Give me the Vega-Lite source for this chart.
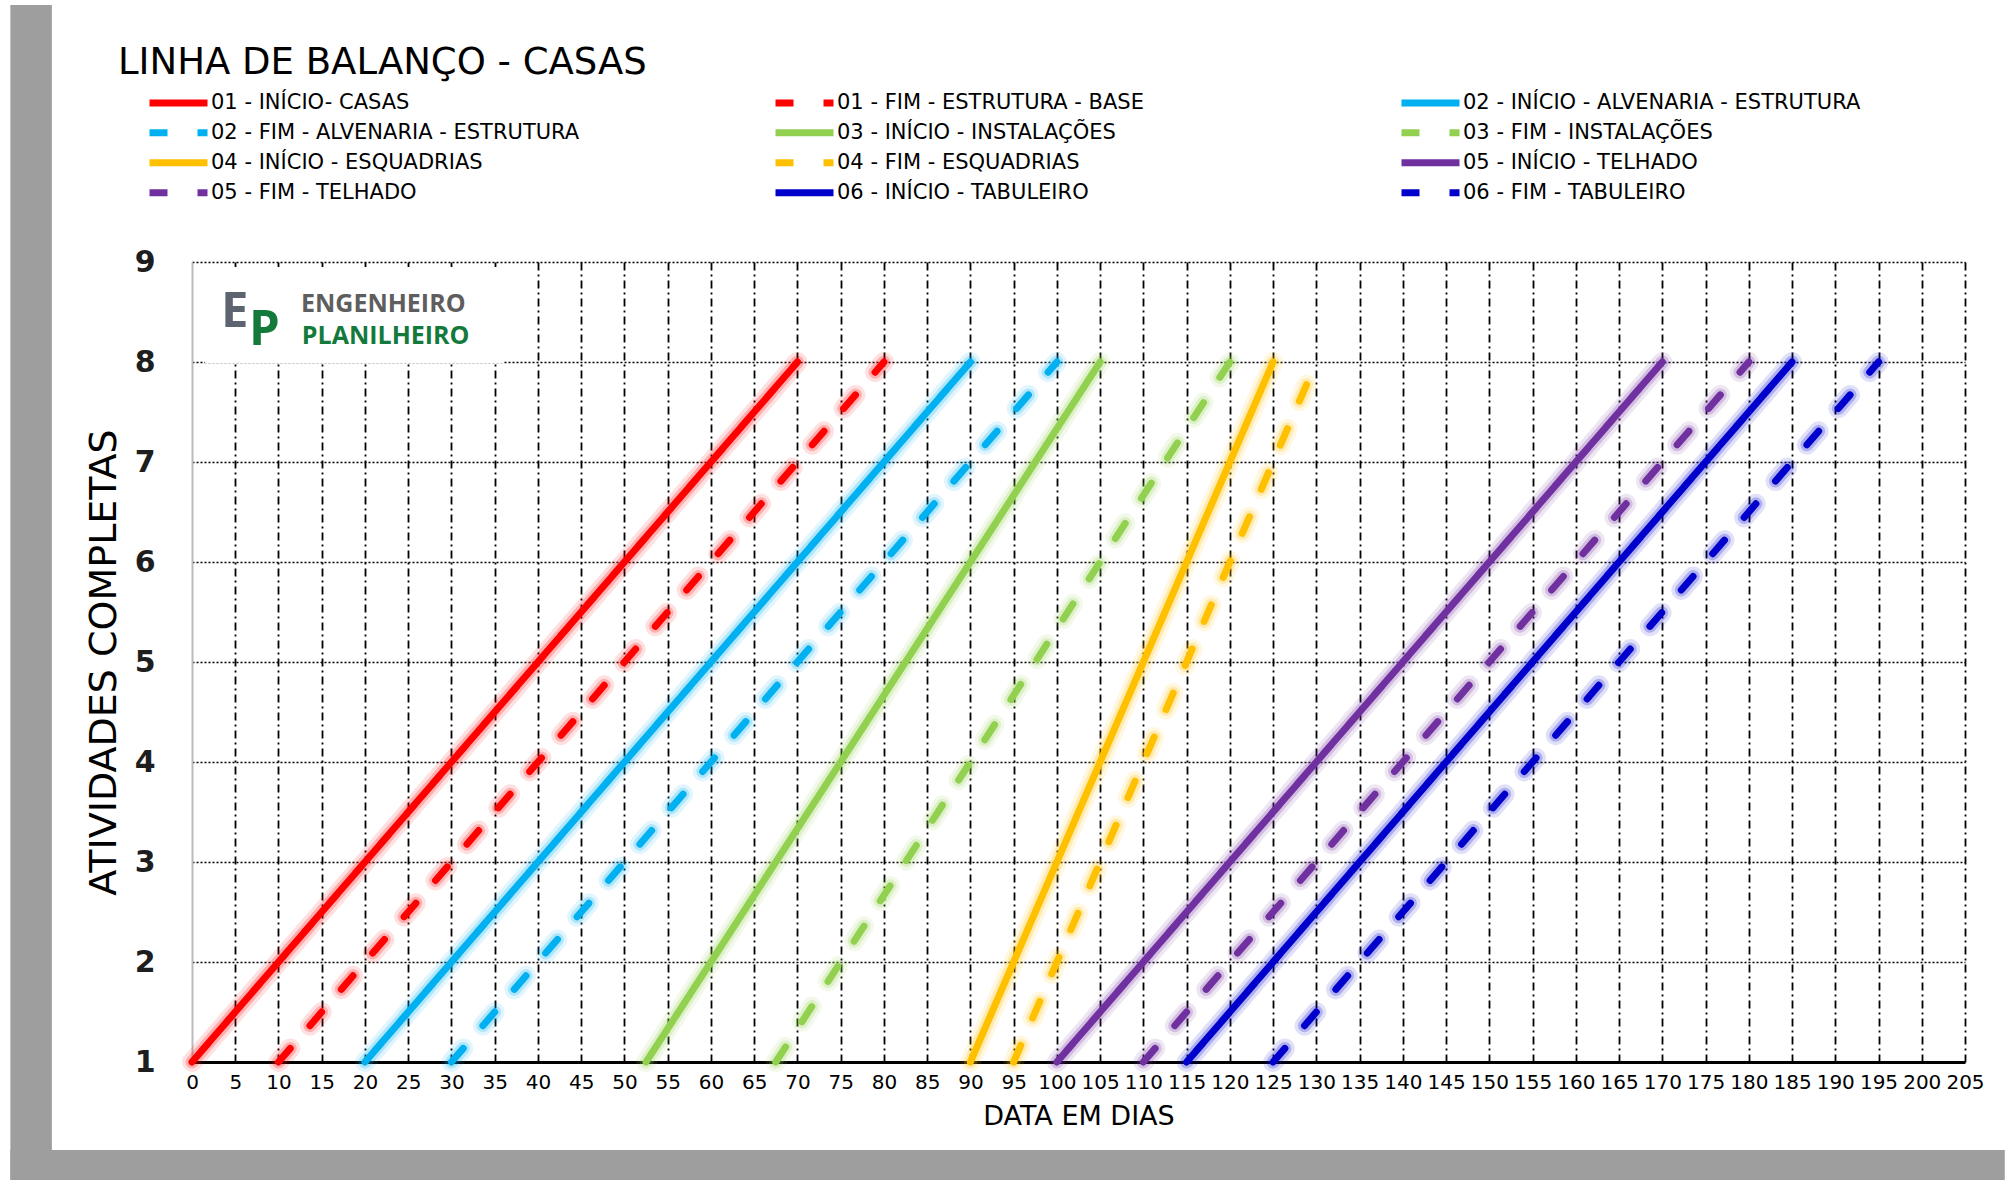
{
  "$schema": "https://vega.github.io/schema/vega-lite/v6.json",
  "width": 1773,
  "height": 800,
  "autosize": {"type": "none"},
  "padding": {"left": 192, "top": 262, "right": 47, "bottom": 129},
  "background": "white",
  "title": {
    "text": "LINHA DE BALANÇO - CASAS",
    "anchor": "start",
    "frame": "group",
    "dx": -74,
    "offset": -106,
    "baseline": "alphabetic",
    "font": "DejaVu Sans",
    "fontSize": 37,
    "fontWeight": "normal",
    "color": "black"
  },
  "config": {
    "view": {"stroke": null},
    "legend": {
      "orient": "none",
      "legendX": -46,
      "legendY": -174,
      "direction": "horizontal",
      "columns": 3,
      "gridAlign": "all",
      "columnPadding": 163,
      "rowPadding": 0,
      "clipHeight": 29.5,
      "symbolType": "stroke",
      "symbolSize": 3364,
      "symbolStrokeWidth": 7,
      "symbolOpacity": 1,
      "labelFont": "DejaVu Sans",
      "labelFontSize": 21,
      "labelColor": "black",
      "labelOffset": 0,
      "labelLimit": 800,
      "padding": 0
    }
  },
  "data": {
    "values": [
      {"serie": "01 - Início- Casas", "dia": 0, "atividades": 1},
      {"serie": "01 - Início- Casas", "dia": 10, "atividades": 2},
      {"serie": "01 - Início- Casas", "dia": 20, "atividades": 3},
      {"serie": "01 - Início- Casas", "dia": 30, "atividades": 4},
      {"serie": "01 - Início- Casas", "dia": 40, "atividades": 5},
      {"serie": "01 - Início- Casas", "dia": 50, "atividades": 6},
      {"serie": "01 - Início- Casas", "dia": 60, "atividades": 7},
      {"serie": "01 - Início- Casas", "dia": 70, "atividades": 8},
      {"serie": "01 - Fim - Estrutura - Base", "dia": 10, "atividades": 1},
      {"serie": "01 - Fim - Estrutura - Base", "dia": 20, "atividades": 2},
      {"serie": "01 - Fim - Estrutura - Base", "dia": 30, "atividades": 3},
      {"serie": "01 - Fim - Estrutura - Base", "dia": 40, "atividades": 4},
      {"serie": "01 - Fim - Estrutura - Base", "dia": 50, "atividades": 5},
      {"serie": "01 - Fim - Estrutura - Base", "dia": 60, "atividades": 6},
      {"serie": "01 - Fim - Estrutura - Base", "dia": 70, "atividades": 7},
      {"serie": "01 - Fim - Estrutura - Base", "dia": 80, "atividades": 8},
      {"serie": "02 - Início - Alvenaria - Estrutura", "dia": 20, "atividades": 1},
      {"serie": "02 - Início - Alvenaria - Estrutura", "dia": 30, "atividades": 2},
      {"serie": "02 - Início - Alvenaria - Estrutura", "dia": 40, "atividades": 3},
      {"serie": "02 - Início - Alvenaria - Estrutura", "dia": 50, "atividades": 4},
      {"serie": "02 - Início - Alvenaria - Estrutura", "dia": 60, "atividades": 5},
      {"serie": "02 - Início - Alvenaria - Estrutura", "dia": 70, "atividades": 6},
      {"serie": "02 - Início - Alvenaria - Estrutura", "dia": 80, "atividades": 7},
      {"serie": "02 - Início - Alvenaria - Estrutura", "dia": 90, "atividades": 8},
      {"serie": "02 - Fim - Alvenaria - Estrutura", "dia": 30, "atividades": 1},
      {"serie": "02 - Fim - Alvenaria - Estrutura", "dia": 40, "atividades": 2},
      {"serie": "02 - Fim - Alvenaria - Estrutura", "dia": 50, "atividades": 3},
      {"serie": "02 - Fim - Alvenaria - Estrutura", "dia": 60, "atividades": 4},
      {"serie": "02 - Fim - Alvenaria - Estrutura", "dia": 70, "atividades": 5},
      {"serie": "02 - Fim - Alvenaria - Estrutura", "dia": 80, "atividades": 6},
      {"serie": "02 - Fim - Alvenaria - Estrutura", "dia": 90, "atividades": 7},
      {"serie": "02 - Fim - Alvenaria - Estrutura", "dia": 100, "atividades": 8},
      {"serie": "03 - Início - Instalações", "dia": 52.5, "atividades": 1},
      {"serie": "03 - Início - Instalações", "dia": 60, "atividades": 2},
      {"serie": "03 - Início - Instalações", "dia": 67.5, "atividades": 3},
      {"serie": "03 - Início - Instalações", "dia": 75, "atividades": 4},
      {"serie": "03 - Início - Instalações", "dia": 82.5, "atividades": 5},
      {"serie": "03 - Início - Instalações", "dia": 90, "atividades": 6},
      {"serie": "03 - Início - Instalações", "dia": 97.5, "atividades": 7},
      {"serie": "03 - Início - Instalações", "dia": 105, "atividades": 8},
      {"serie": "03 - Fim - Instalações", "dia": 67.5, "atividades": 1},
      {"serie": "03 - Fim - Instalações", "dia": 75, "atividades": 2},
      {"serie": "03 - Fim - Instalações", "dia": 82.5, "atividades": 3},
      {"serie": "03 - Fim - Instalações", "dia": 90, "atividades": 4},
      {"serie": "03 - Fim - Instalações", "dia": 97.5, "atividades": 5},
      {"serie": "03 - Fim - Instalações", "dia": 105, "atividades": 6},
      {"serie": "03 - Fim - Instalações", "dia": 112.5, "atividades": 7},
      {"serie": "03 - Fim - Instalações", "dia": 120, "atividades": 8},
      {"serie": "04 - Início - Esquadrias", "dia": 90, "atividades": 1},
      {"serie": "04 - Início - Esquadrias", "dia": 95, "atividades": 2},
      {"serie": "04 - Início - Esquadrias", "dia": 100, "atividades": 3},
      {"serie": "04 - Início - Esquadrias", "dia": 105, "atividades": 4},
      {"serie": "04 - Início - Esquadrias", "dia": 110, "atividades": 5},
      {"serie": "04 - Início - Esquadrias", "dia": 115, "atividades": 6},
      {"serie": "04 - Início - Esquadrias", "dia": 120, "atividades": 7},
      {"serie": "04 - Início - Esquadrias", "dia": 125, "atividades": 8},
      {"serie": "04 - Fim - Esquadrias", "dia": 95, "atividades": 1},
      {"serie": "04 - Fim - Esquadrias", "dia": 100, "atividades": 2},
      {"serie": "04 - Fim - Esquadrias", "dia": 105, "atividades": 3},
      {"serie": "04 - Fim - Esquadrias", "dia": 110, "atividades": 4},
      {"serie": "04 - Fim - Esquadrias", "dia": 115, "atividades": 5},
      {"serie": "04 - Fim - Esquadrias", "dia": 120, "atividades": 6},
      {"serie": "04 - Fim - Esquadrias", "dia": 125, "atividades": 7},
      {"serie": "04 - Fim - Esquadrias", "dia": 130, "atividades": 8},
      {"serie": "05 - Início - Telhado", "dia": 100, "atividades": 1},
      {"serie": "05 - Início - Telhado", "dia": 110, "atividades": 2},
      {"serie": "05 - Início - Telhado", "dia": 120, "atividades": 3},
      {"serie": "05 - Início - Telhado", "dia": 130, "atividades": 4},
      {"serie": "05 - Início - Telhado", "dia": 140, "atividades": 5},
      {"serie": "05 - Início - Telhado", "dia": 150, "atividades": 6},
      {"serie": "05 - Início - Telhado", "dia": 160, "atividades": 7},
      {"serie": "05 - Início - Telhado", "dia": 170, "atividades": 8},
      {"serie": "05 - Fim - Telhado", "dia": 110, "atividades": 1},
      {"serie": "05 - Fim - Telhado", "dia": 120, "atividades": 2},
      {"serie": "05 - Fim - Telhado", "dia": 130, "atividades": 3},
      {"serie": "05 - Fim - Telhado", "dia": 140, "atividades": 4},
      {"serie": "05 - Fim - Telhado", "dia": 150, "atividades": 5},
      {"serie": "05 - Fim - Telhado", "dia": 160, "atividades": 6},
      {"serie": "05 - Fim - Telhado", "dia": 170, "atividades": 7},
      {"serie": "05 - Fim - Telhado", "dia": 180, "atividades": 8},
      {"serie": "06 - Início - Tabuleiro", "dia": 115, "atividades": 1},
      {"serie": "06 - Início - Tabuleiro", "dia": 125, "atividades": 2},
      {"serie": "06 - Início - Tabuleiro", "dia": 135, "atividades": 3},
      {"serie": "06 - Início - Tabuleiro", "dia": 145, "atividades": 4},
      {"serie": "06 - Início - Tabuleiro", "dia": 155, "atividades": 5},
      {"serie": "06 - Início - Tabuleiro", "dia": 165, "atividades": 6},
      {"serie": "06 - Início - Tabuleiro", "dia": 175, "atividades": 7},
      {"serie": "06 - Início - Tabuleiro", "dia": 185, "atividades": 8},
      {"serie": "06 - Fim - Tabuleiro", "dia": 125, "atividades": 1},
      {"serie": "06 - Fim - Tabuleiro", "dia": 135, "atividades": 2},
      {"serie": "06 - Fim - Tabuleiro", "dia": 145, "atividades": 3},
      {"serie": "06 - Fim - Tabuleiro", "dia": 155, "atividades": 4},
      {"serie": "06 - Fim - Tabuleiro", "dia": 165, "atividades": 5},
      {"serie": "06 - Fim - Tabuleiro", "dia": 175, "atividades": 6},
      {"serie": "06 - Fim - Tabuleiro", "dia": 185, "atividades": 7},
      {"serie": "06 - Fim - Tabuleiro", "dia": 195, "atividades": 8}
    ]
  },
  "layer": [
    {
      "data": {"values": [{"a": 1}]},
      "mark": {"type": "rect", "fill": "#9e9e9e", "clip": false},
      "encoding": {
        "x": {"datum": -21, "type": "quantitative", "scale": {"domain": [0, 205], "nice": false, "zero": false}},
        "x2": {"datum": -16.2},
        "y": {"datum": -0.18, "type": "quantitative", "scale": {"domain": [1, 9], "nice": false, "zero": false}},
        "y2": {"datum": 11.57}
      }
    },
    {
      "data": {"values": [{"a": 1}]},
      "mark": {"type": "rect", "fill": "#9e9e9e", "clip": false},
      "encoding": {
        "x": {"datum": -21, "type": "quantitative"},
        "x2": {"datum": 209.6},
        "y": {"datum": -0.18, "type": "quantitative"},
        "y2": {"datum": 0.12}
      }
    },
    {
      "mark": {"type": "line", "strokeWidth": 20, "opacity": 0.12, "strokeCap": "round", "strokeJoin": "round"},
      "encoding": {
        "x": {"field": "dia", "type": "quantitative"},
        "y": {"field": "atividades", "type": "quantitative"},
        "color": {"field": "serie", "type": "nominal", "title": null,
          "scale": {
            "domain": ["01 - Início- Casas","01 - Fim - Estrutura - Base","02 - Início - Alvenaria - Estrutura","02 - Fim - Alvenaria - Estrutura","03 - Início - Instalações","03 - Fim - Instalações","04 - Início - Esquadrias","04 - Fim - Esquadrias","05 - Início - Telhado","05 - Fim - Telhado","06 - Início - Tabuleiro","06 - Fim - Tabuleiro"],
            "range": ["#ff0000","#ff0000","#00b0f0","#00b0f0","#92d050","#92d050","#ffc000","#ffc000","#7030a0","#7030a0","#0000cc","#0000cc"]
          },
          "legend": {"labelExpr": "upper(datum.label)"}},
        "strokeDash": {"field": "serie", "type": "nominal", "title": null,
          "scale": {
            "domain": ["01 - Início- Casas","01 - Fim - Estrutura - Base","02 - Início - Alvenaria - Estrutura","02 - Fim - Alvenaria - Estrutura","03 - Início - Instalações","03 - Fim - Instalações","04 - Início - Esquadrias","04 - Fim - Esquadrias","05 - Início - Telhado","05 - Fim - Telhado","06 - Início - Tabuleiro","06 - Fim - Tabuleiro"],
            "range": [[1,0],[18,30],[1,0],[18,30],[1,0],[18,30],[1,0],[18,30],[1,0],[18,30],[1,0],[18,30]]
          },
          "legend": {"labelExpr": "upper(datum.label)"}}
      }
    },
    {
      "mark": {"type": "line", "strokeWidth": 13, "opacity": 0.22, "strokeCap": "round", "strokeJoin": "round"},
      "encoding": {
        "x": {"field": "dia", "type": "quantitative"},
        "y": {"field": "atividades", "type": "quantitative"},
        "color": {"field": "serie", "type": "nominal", "title": null, "legend": {"labelExpr": "upper(datum.label)"}},
        "strokeDash": {"field": "serie", "type": "nominal", "title": null, "legend": {"labelExpr": "upper(datum.label)"}}
      }
    },
    {
      "mark": {"type": "line", "strokeWidth": 7, "strokeCap": "round", "strokeJoin": "round"},
      "encoding": {
        "x": {"field": "dia", "type": "quantitative",
          "axis": {
            "values": [0,5,10,15,20,25,30,35,40,45,50,55,60,65,70,75,80,85,90,95,100,105,110,115,120,125,130,135,140,145,150,155,160,165,170,175,180,185,190,195,200,205],
            "title": "DATA EM DIAS",
            "titleFont": "DejaVu Sans",
            "titleFontSize": 27,
            "titleFontWeight": "normal",
            "titleColor": "black",
            "titlePadding": 11,
            "labelFont": "DejaVu Sans",
            "labelFontSize": 20,
            "labelColor": "black",
            "labelPadding": 10,
            "labelOverlap": false,
            "labelFlush": false,
            "labelBound": false,
            "ticks": false,
            "domainColor": "black",
            "domainWidth": 3,
            "grid": true,
            "gridColor": "black",
            "gridDash": [8, 4, 2, 4],
            "gridWidth": 1.8,
            "gridOpacity": {"condition": {"test": "datum.value === 0", "value": 0}, "value": 1}
          }},
        "y": {"field": "atividades", "type": "quantitative",
          "axis": {
            "values": [1,2,3,4,5,6,7,8,9],
            "format": "d",
            "title": "ATIVIDADES COMPLETAS",
            "titleFont": "DejaVu Sans",
            "titleFontSize": 38,
            "titleFontWeight": "normal",
            "titleColor": "black",
            "titlePadding": 11,
            "labelFont": "DejaVu Sans",
            "labelFontSize": 30,
            "labelFontWeight": "bold",
            "labelColor": "#1e1e1e",
            "labelPadding": 37,
            "ticks": false,
            "domainColor": "#bbbbbb",
            "domainWidth": 2,
            "grid": true,
            "gridColor": "black",
            "gridDash": [2, 2],
            "gridWidth": 1.5,
            "gridOpacity": {"condition": {"test": "datum.value === 1", "value": 0}, "value": 1}
          }},
        "color": {"field": "serie", "type": "nominal", "title": null, "legend": {"labelExpr": "upper(datum.label)"}},
        "strokeDash": {"field": "serie", "type": "nominal", "title": null, "legend": {"labelExpr": "upper(datum.label)"}}
      }
    },
    {
      "data": {"values": [{"a": 1}]},
      "mark": {"type": "rect", "fill": "white"},
      "encoding": {
        "x": {"datum": 1.5, "type": "quantitative"},
        "x2": {"datum": 36},
        "y": {"datum": 7.99, "type": "quantitative"},
        "y2": {"datum": 8.95}
      }
    },
    {
      "data": {"values": [{"a": 1}]},
      "mark": {"type": "text", "text": "E", "font": "Open Sans", "fontWeight": "bold", "fontSize": 49, "fill": "#5d6470", "align": "left", "baseline": "alphabetic"},
      "encoding": {"x": {"datum": 3.35, "type": "quantitative"}, "y": {"datum": 8.35, "type": "quantitative"}}
    },
    {
      "data": {"values": [{"a": 1}]},
      "mark": {"type": "text", "text": "P", "font": "Open Sans", "fontWeight": "bold", "fontSize": 49, "fill": "#137a3c", "align": "left", "baseline": "alphabetic"},
      "encoding": {"x": {"datum": 6.6, "type": "quantitative"}, "y": {"datum": 8.17, "type": "quantitative"}}
    },
    {
      "data": {"values": [{"a": 1}]},
      "mark": {"type": "text", "text": "ENGENHEIRO", "font": "Open Sans", "fontWeight": "bold", "fontSize": 25, "fill": "#5e5e5e", "align": "left", "baseline": "alphabetic"},
      "encoding": {"x": {"datum": 12.6, "type": "quantitative"}, "y": {"datum": 8.5, "type": "quantitative"}}
    },
    {
      "data": {"values": [{"a": 1}]},
      "mark": {"type": "text", "text": "PLANILHEIRO", "font": "Open Sans", "fontWeight": "bold", "fontSize": 25, "fill": "#137a3c", "align": "left", "baseline": "alphabetic"},
      "encoding": {"x": {"datum": 12.7, "type": "quantitative"}, "y": {"datum": 8.18, "type": "quantitative"}}
    }
  ]
}
